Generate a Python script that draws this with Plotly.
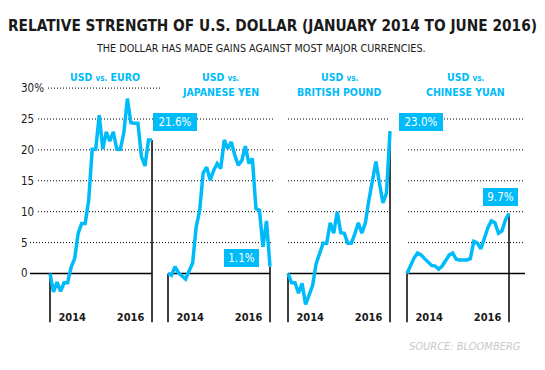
import plotly.graph_objects as go

# ---------------- data ----------------
months = list(range(30))  # monthly index, Jan 2014 .. Jun 2016
euro = [0, -3.0, -1.4, -2.9, -1.5, -1.5, 1.0, 2.4, 6.5, 8.1, 8.1, 11.9, 20.1, 20.1, 25.6,
        20.1, 22.9, 21.4, 22.9, 20.1, 20.1, 22.8, 28.3, 24.4, 24.3, 24.3, 18.9, 17.4, 21.6, 21.6]
yen = [0, -0.3, 1.1, 0.1, -0.4, -0.9, 0.4, 1.7, 7.5, 10.2, 16.3, 17.2, 15.1, 16.7, 17.8,
       17.0, 21.6, 20.2, 21.3, 19.1, 17.5, 18.3, 20.6, 17.8, 18.6, 10.5, 10.2, 4.3, 8.5, 1.1]
pound = [0, -1.5, -1.5, -3.2, -1.6, -5.0, -3.5, -1.9, 1.6, 3.2, 4.9, 4.9, 8.2, 6.5, 10.0,
         6.6, 6.5, 4.9, 4.9, 6.4, 8.2, 6.5, 8.2, 11.9, 15.0, 18.1, 14.6, 11.4, 13.0, 23.0]
yuan = [0, 1.4, 2.5, 3.3, 3.0, 2.4, 1.8, 1.3, 1.2, 0.7, 1.2, 2.2, 3.0, 3.3, 2.3,
        2.2, 2.2, 2.2, 2.4, 5.2, 4.9, 4.0, 5.7, 7.4, 8.5, 8.2, 6.5, 6.9, 8.7, 9.7]

currencies = ["EURO", "JAPANESE YEN", "BRITISH POUND", "CHINESE YUAN"]
series = [euro, yen, pound, yuan]

year_tick_pos = [6.3, 22.9]
year_tick_text = ["2014", "2016"]

y_tick_vals = [30, 25, 20, 15, 10, 5, 0]
y_tick_text = ["30%", "25", "20", "15", "10", "5", "0"]

title = "RELATIVE STRENGTH OF U.S. DOLLAR (JANUARY 2014 TO JUNE 2016)"
subtitle = "THE DOLLAR HAS MADE GAINS AGAINST MOST MAJOR CURRENCIES."
source = "SOURCE: BLOOMBERG"

# ---------------- styling / layout ----------------
W, H = 545, 370
BLUE = "#00BBF9"
DARK = "#1a1a1a"
FONT = "DejaVu Sans Condensed"
BOTTOM = -7.9
PPM = 102 / 29.0  # pixels per month


def px(x):
    return x / W


def py(y):
    return 1 - y / H


panel_left = [50, 168, 288, 407]   # pixel x of first data point
header_x = [105, 220, 339, 465.5]
label_box = [  # center x, center y, width (pixels)
    (175, 122, 44), (241.5, 258, 35), (421, 122, 44), (500.5, 196.5, 35)]

fig = go.Figure()
axis_names = ["x", "x2", "x3", "x4"]
shapes = []
annotations = []

for i, (vals, cur) in enumerate(zip(series, currencies)):
    xa = axis_names[i]
    fig.add_trace(go.Scatter(
        x=months, y=vals, mode="lines", xaxis=xa, yaxis="y",
        line=dict(color=BLUE, width=3.5), hoverinfo="skip", showlegend=False))
    # vertical reference lines at start and end
    for xi in (0, -1):
        shapes.append(dict(type="line", xref=xa, yref="y", x0=months[xi], x1=months[xi],
                           y0=vals[xi], y1=BOTTOM, line=dict(color="black", width=1.5),
                           layer="below"))
    # axis
    left = panel_left[i]
    dom = [px(left - PPM), px(left + 102 + PPM)]
    key = "xaxis" if i == 0 else f"xaxis{i+1}"
    fig.update_layout({key: dict(
        domain=dom, range=[-1, 30], anchor="y", showgrid=False, zeroline=False,
        showline=False, ticks="", tickvals=year_tick_pos, ticktext=year_tick_text,
        ticklabelposition="inside",
        tickfont=dict(family=FONT, size=11, color=DARK, weight="bold"))})
    # value box
    cx, cy, bw = label_box[i]
    annotations.append(dict(
        xref="paper", yref="paper", x=px(cx), y=py(cy), showarrow=False,
        text=f"{vals[-1]:.1f}%", bgcolor=BLUE, width=bw, height=18, borderpad=0,
        borderwidth=0, font=dict(family=FONT, size=11.5, color="white"),
        xanchor="center", yanchor="middle"))
    # header
    vs = "USD <span style='font-size:8px'>vs.</span>"
    hfont = dict(family=FONT, size=10.5, color=BLUE, weight="bold")
    if i == 0:
        annotations.append(dict(xref="paper", yref="paper", x=px(header_x[i]), y=py(77),
                                text=f"{vs} {cur}", showarrow=False, font=hfont,
                                xanchor="center", yanchor="middle"))
    else:
        annotations.append(dict(xref="paper", yref="paper", x=px(header_x[i]), y=py(76.5),
                                text=vs, showarrow=False, font=hfont,
                                xanchor="center", yanchor="middle"))
        annotations.append(dict(xref="paper", yref="paper", x=px(header_x[i]), y=py(91.5),
                                text=cur, showarrow=False, font=hfont,
                                xanchor="center", yanchor="middle"))

# dotted gridlines
DOT = dict(color="black", width=1, dash="1px,2px")
for v in y_tick_vals:
    if v == 0:
        continue
    if v == 30:
        segs = [(48, 160)]
    else:
        start = 30 if v == 5 else 38
        segs = [(start, 273), (288, 390), (408, 525)]
    for a, b in segs:
        shapes.append(dict(type="line", xref="paper", yref="y", x0=px(a), x1=px(b),
                           y0=v, y1=v, line=DOT, layer="below"))

# zero lines
for a, b in [(30, 152), (168, 270), (288, 390), (407, 525)]:
    shapes.append(dict(type="line", xref="paper", yref="y", x0=px(a), x1=px(b),
                       y0=0, y1=0, line=dict(color="black", width=1.5), layer="below"))

# y tick labels
for v, t in zip(y_tick_vals, y_tick_text):
    annotations.append(dict(xref="paper", yref="y", x=px(19), y=v, text=t, showarrow=False,
                            xanchor="left", yanchor="middle",
                            font=dict(family=FONT, size=11.5, color=DARK)))

# titles and source
annotations.append(dict(xref="paper", yref="paper", x=px(272.5), y=py(26), text=title,
                        showarrow=False, xanchor="center", yanchor="middle",
                        font=dict(family=FONT, size=15.3, color=DARK, weight="bold")))
annotations.append(dict(xref="paper", yref="paper", x=px(261), y=py(48), text=subtitle,
                        showarrow=False, xanchor="center", yanchor="middle",
                        font=dict(family=FONT, size=10.7, color=DARK)))
annotations.append(dict(xref="paper", yref="paper", x=px(523), y=py(346), text=source,
                        showarrow=False, xanchor="right", yanchor="middle",
                        font=dict(family=FONT, size=11, color="#c8c8c8", style="italic")))

fig.update_layout(
    width=W, height=H, margin=dict(l=0, r=0, t=0, b=0),
    paper_bgcolor="white", plot_bgcolor="rgba(0,0,0,0)",
    yaxis=dict(domain=[44 / H, 1 - 85 / H], range=[-8.5, 30.5], visible=False,
               showgrid=False, zeroline=False),
    shapes=shapes, annotations=annotations, showlegend=False)

fig.write_html("out.html", config={"displayModeBar": False},
               post_script="document.body.style.margin='0';")
